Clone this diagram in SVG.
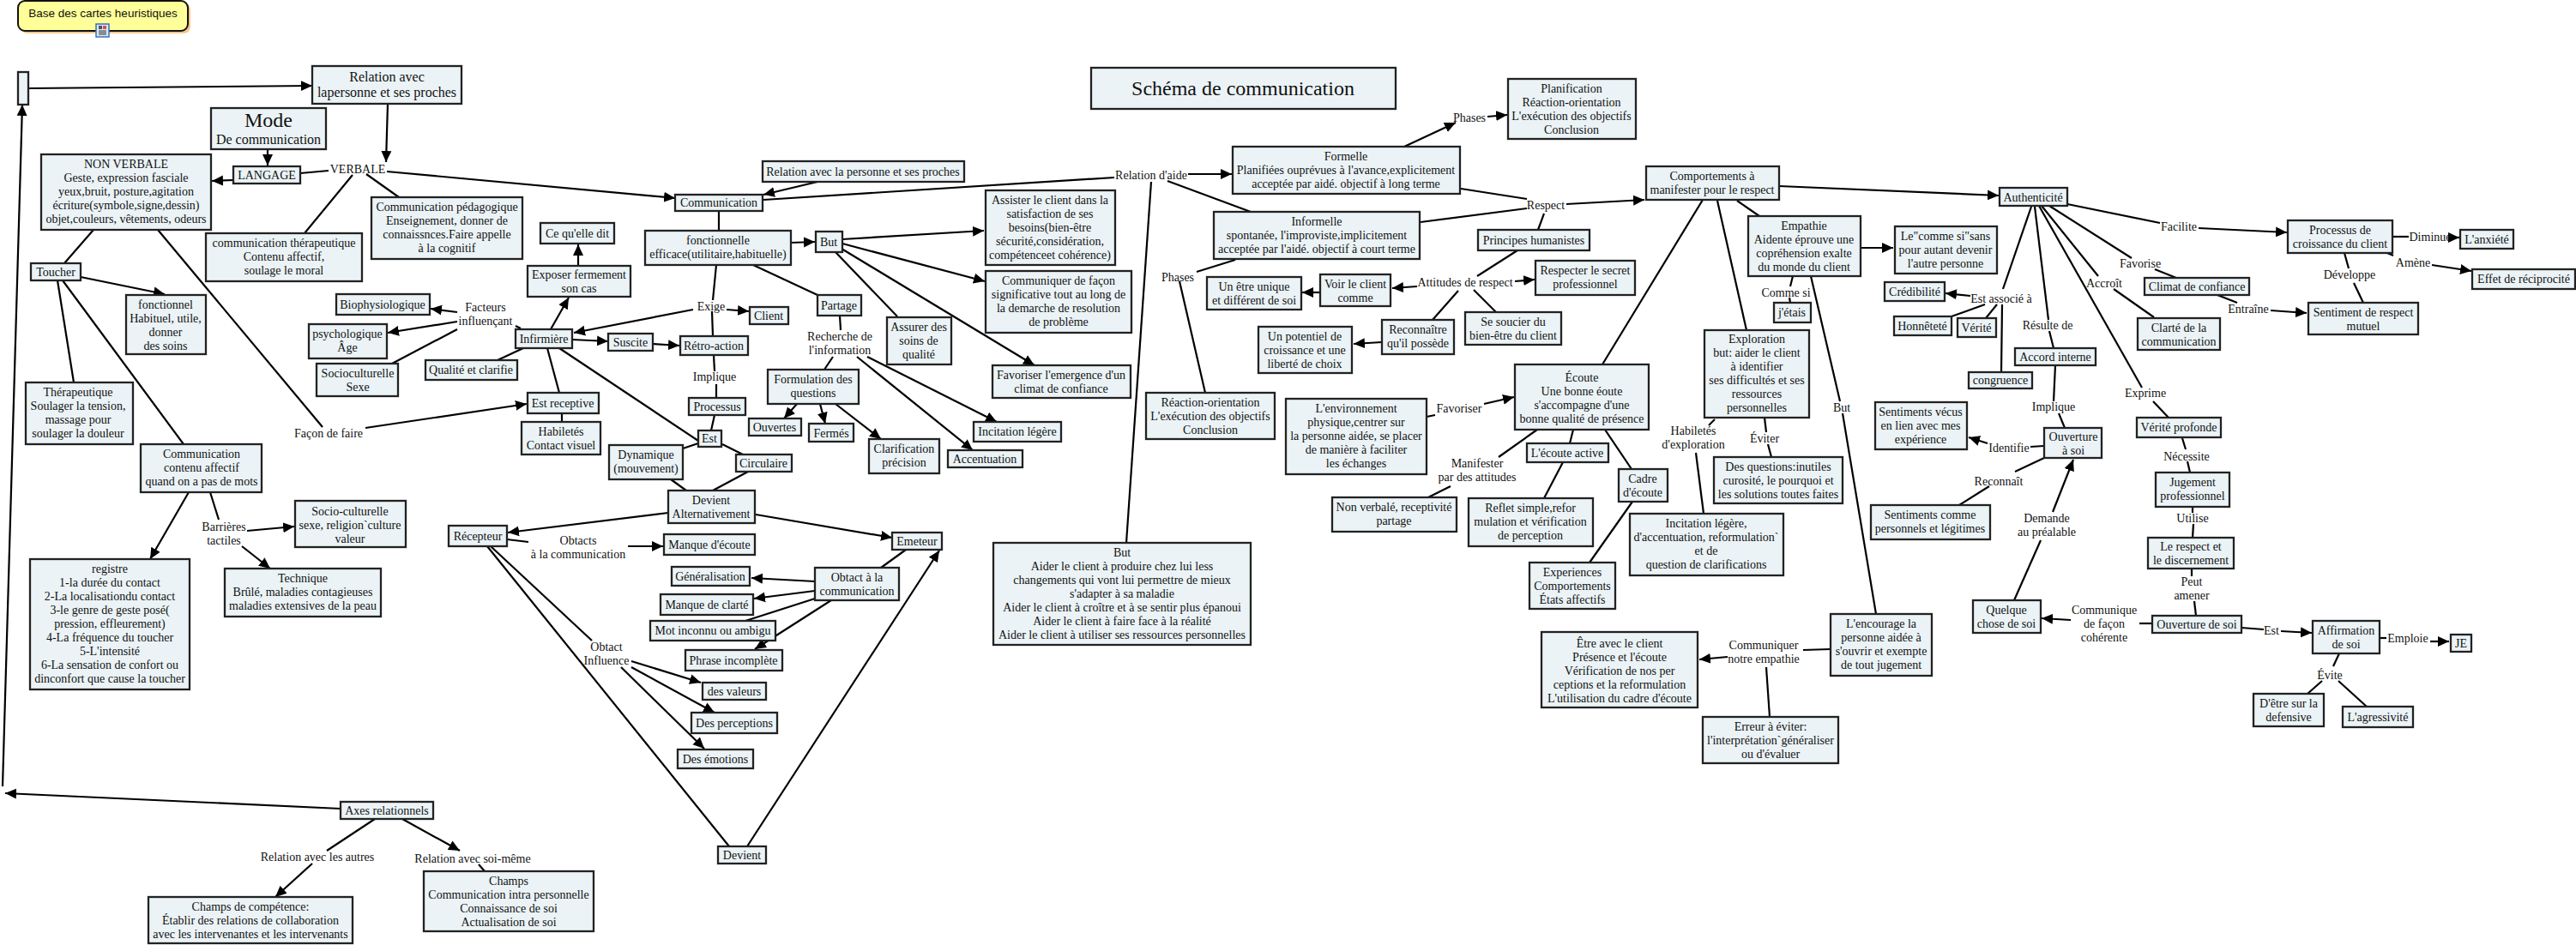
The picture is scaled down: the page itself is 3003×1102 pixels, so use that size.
<svg xmlns="http://www.w3.org/2000/svg" width="3003" height="1102" viewBox="0 0 3003 1102">
<style>
text{font-family:"Liberation Serif","Times New Roman",serif;font-size:14px;text-anchor:middle;fill:#111}
.n rect{fill:#ebf3f6;stroke:#222;stroke-width:2.3}
#connectors line{stroke:#000;stroke-width:2.2;fill:none}
.a{marker-end:url(#ah)}
.m{font-size:16px}
.h{font-size:24px}
</style>
<defs><marker id="ah" markerUnits="userSpaceOnUse" markerWidth="13" markerHeight="13" refX="13" refY="6.5" orient="auto"><path d="M0,0.5 L13,6.5 L0,12.5 z" fill="#000"/></marker></defs>
<rect width="3003" height="1102" fill="#fff"/>
<g id="connectors">
<line class="a" x1="33" y1="103" x2="364" y2="100"/>
<line class="a" x1="452" y1="121" x2="450" y2="189"/>
<line class="a" x1="312" y1="174" x2="312" y2="193"/>
<line class="a" x1="272" y1="210" x2="247" y2="211"/>
<line x1="350" y1="202" x2="383" y2="199"/>
<line class="a" x1="451" y1="200" x2="787" y2="231"/>
<line x1="411" y1="204" x2="355" y2="272"/>
<line x1="427" y1="203" x2="465" y2="230"/>
<line x1="109" y1="268" x2="75" y2="307"/>
<line x1="184" y1="268" x2="376" y2="498"/>
<line class="a" x1="426" y1="499" x2="614" y2="471"/>
<line class="a" x1="94" y1="323" x2="192" y2="343"/>
<line x1="67" y1="327" x2="86" y2="446"/>
<line x1="73" y1="327" x2="214" y2="518"/>
<line class="a" x1="220" y1="574" x2="175" y2="652"/>
<line x1="245" y1="574" x2="255" y2="606"/>
<line class="a" x1="288" y1="619" x2="343" y2="614"/>
<line class="a" x1="282" y1="637" x2="315" y2="663"/>
<line class="a" x1="397" y1="943" x2="6" y2="925"/>
<line x1="437" y1="955" x2="381" y2="992"/>
<line class="a" x1="364" y1="1007" x2="321" y2="1046"/>
<line class="a" x1="469" y1="955" x2="536" y2="992"/>
<line x1="558" y1="1008" x2="565" y2="1016"/>
<line class="a" x1="3" y1="917" x2="26" y2="122"/>
<line x1="655" y1="482" x2="655" y2="492"/>
<line class="a" x1="533" y1="364" x2="502" y2="360"/>
<line class="a" x1="533" y1="375" x2="452" y2="388"/>
<line x1="533" y1="384" x2="457" y2="424"/>
<line x1="607" y1="383" x2="601" y2="380"/>
<line x1="610" y1="406" x2="580" y2="420"/>
<line x1="638" y1="406" x2="652" y2="458"/>
<line class="a" x1="642" y1="384" x2="663" y2="347"/>
<line class="a" x1="674" y1="310" x2="674" y2="285"/>
<line class="a" x1="667" y1="396" x2="709" y2="398"/>
<line class="a" x1="761" y1="401" x2="792" y2="403"/>
<line class="a" x1="808" y1="361" x2="669" y2="388"/>
<line class="a" x1="847" y1="361" x2="873" y2="363"/>
<line x1="835" y1="309" x2="831" y2="350"/>
<line x1="830" y1="363" x2="831" y2="392"/>
<line x1="832" y1="414" x2="833" y2="433"/>
<line x1="835" y1="448" x2="835" y2="464"/>
<line x1="833" y1="484" x2="829" y2="502"/>
<line x1="814" y1="517" x2="796" y2="523"/>
<line x1="842" y1="518" x2="866" y2="530"/>
<line x1="652" y1="406" x2="814" y2="514"/>
<line x1="782" y1="559" x2="800" y2="572"/>
<line x1="872" y1="550" x2="831" y2="572"/>
<line x1="838" y1="246" x2="838" y2="269"/>
<line class="a" x1="953" y1="212" x2="890" y2="227"/>
<line x1="890" y1="233" x2="1299" y2="207"/>
<line class="a" x1="922" y1="283" x2="950" y2="282"/>
<line class="a" x1="982" y1="279" x2="1147" y2="269"/>
<line class="a" x1="982" y1="284" x2="1148" y2="328"/>
<line x1="974" y1="294" x2="1046" y2="369"/>
<line class="a" x1="981" y1="290" x2="1206" y2="426"/>
<line x1="878" y1="309" x2="953" y2="344"/>
<line x1="979" y1="368" x2="980" y2="385"/>
<line x1="971" y1="416" x2="961" y2="431"/>
<line class="a" x1="999" y1="416" x2="1134" y2="525"/>
<line class="a" x1="1011" y1="416" x2="1162" y2="492"/>
<line class="a" x1="929" y1="471" x2="914" y2="488"/>
<line class="a" x1="956" y1="471" x2="962" y2="494"/>
<line class="a" x1="974" y1="471" x2="1027" y2="512"/>
<line x1="1342" y1="212" x2="1313" y2="633"/>
<line class="a" x1="1385" y1="203" x2="1436" y2="203"/>
<line x1="1361" y1="211" x2="1458" y2="247"/>
<line x1="1440" y1="303" x2="1395" y2="317"/>
<line x1="1375" y1="328" x2="1405" y2="458"/>
<line class="a" x1="1637" y1="171" x2="1697" y2="143"/>
<line class="a" x1="1734" y1="136" x2="1757" y2="134"/>
<line x1="1703" y1="220" x2="1780" y2="232"/>
<line x1="1656" y1="259" x2="1780" y2="243"/>
<line class="a" x1="1826" y1="238" x2="1917" y2="233"/>
<line x1="1800" y1="249" x2="1793" y2="268"/>
<line x1="1769" y1="292" x2="1722" y2="322"/>
<line class="a" x1="1652" y1="334" x2="1623" y2="336"/>
<line class="a" x1="1539" y1="341" x2="1518" y2="341"/>
<line class="a" x1="1766" y1="328" x2="1789" y2="326"/>
<line x1="1718" y1="338" x2="1744" y2="364"/>
<line x1="1700" y1="339" x2="1670" y2="373"/>
<line class="a" x1="1611" y1="399" x2="1578" y2="401"/>
<line x1="1985" y1="233" x2="1868" y2="425"/>
<line x1="2025" y1="234" x2="2051" y2="252"/>
<line x1="2002" y1="234" x2="2036" y2="385"/>
<line class="a" x1="2074" y1="217" x2="2330" y2="228"/>
<line class="a" x1="2169" y1="289" x2="2207" y2="289"/>
<line x1="2090" y1="322" x2="2087" y2="334"/>
<line x1="2086" y1="347" x2="2087" y2="353"/>
<line x1="2111" y1="322" x2="2145" y2="468"/>
<line x1="2148" y1="482" x2="2187" y2="716"/>
<line x1="2057" y1="487" x2="2059" y2="504"/>
<line x1="2061" y1="518" x2="2065" y2="533"/>
<line x1="1999" y1="489" x2="1992" y2="496"/>
<line x1="1977" y1="528" x2="1986" y2="599"/>
<line x1="1663" y1="486" x2="1673" y2="484"/>
<line class="a" x1="1730" y1="471" x2="1765" y2="463"/>
<line x1="1792" y1="501" x2="1747" y2="533"/>
<line x1="1691" y1="567" x2="1665" y2="580"/>
<line x1="1834" y1="501" x2="1830" y2="517"/>
<line x1="1822" y1="539" x2="1800" y2="581"/>
<line x1="1871" y1="501" x2="1902" y2="547"/>
<line x1="1903" y1="585" x2="1853" y2="656"/>
<line x1="2134" y1="757" x2="2102" y2="758"/>
<line class="a" x1="2014" y1="766" x2="1981" y2="769"/>
<line x1="2059" y1="778" x2="2063" y2="836"/>
<line x1="2368" y1="241" x2="2335" y2="337"/>
<line class="a" x1="2297" y1="345" x2="2268" y2="342"/>
<line x1="2314" y1="355" x2="2275" y2="369"/>
<line x1="2328" y1="355" x2="2315" y2="371"/>
<line x1="2334" y1="355" x2="2333" y2="434"/>
<line x1="2372" y1="241" x2="2388" y2="373"/>
<line x1="2389" y1="386" x2="2394" y2="406"/>
<line x1="2396" y1="426" x2="2394" y2="468"/>
<line x1="2400" y1="482" x2="2407" y2="499"/>
<line x1="2383" y1="520" x2="2367" y2="521"/>
<line class="a" x1="2317" y1="517" x2="2295" y2="510"/>
<line x1="2383" y1="534" x2="2349" y2="550"/>
<line x1="2319" y1="567" x2="2284" y2="589"/>
<line x1="2348" y1="700" x2="2379" y2="630"/>
<line class="a" x1="2393" y1="597" x2="2417" y2="536"/>
<line class="a" x1="2414" y1="723" x2="2380" y2="721"/>
<line x1="2509" y1="727" x2="2494" y2="727"/>
<line x1="2613" y1="732" x2="2639" y2="734"/>
<line class="a" x1="2659" y1="736" x2="2695" y2="738"/>
<line x1="2774" y1="744" x2="2782" y2="744"/>
<line class="a" x1="2833" y1="748" x2="2855" y2="748"/>
<line x1="2727" y1="762" x2="2720" y2="777"/>
<line x1="2707" y1="794" x2="2690" y2="809"/>
<line x1="2726" y1="794" x2="2759" y2="824"/>
<line x1="2555" y1="663" x2="2555" y2="672"/>
<line x1="2558" y1="701" x2="2560" y2="718"/>
<line x1="2556" y1="591" x2="2556" y2="598"/>
<line x1="2557" y1="611" x2="2556" y2="627"/>
<line x1="2544" y1="511" x2="2548" y2="524"/>
<line x1="2550" y1="538" x2="2553" y2="551"/>
<line x1="2510" y1="468" x2="2528" y2="487"/>
<line x1="2377" y1="240" x2="2497" y2="452"/>
<line x1="2380" y1="240" x2="2446" y2="322"/>
<line x1="2464" y1="337" x2="2511" y2="370"/>
<line x1="2389" y1="240" x2="2485" y2="301"/>
<line x1="2512" y1="314" x2="2537" y2="324"/>
<line x1="2585" y1="344" x2="2608" y2="353"/>
<line class="a" x1="2647" y1="362" x2="2689" y2="365"/>
<line x1="2410" y1="238" x2="2518" y2="260"/>
<line class="a" x1="2563" y1="266" x2="2666" y2="271"/>
<line x1="2789" y1="276" x2="2808" y2="276"/>
<line class="a" x1="2855" y1="277" x2="2867" y2="277"/>
<line x1="2783" y1="295" x2="2790" y2="298"/>
<line class="a" x1="2835" y1="309" x2="2881" y2="316"/>
<line x1="2733" y1="295" x2="2738" y2="313"/>
<line x1="2744" y1="330" x2="2755" y2="353"/>
<line class="a" x1="779" y1="598" x2="592" y2="621"/>
<line class="a" x1="881" y1="600" x2="1040" y2="627"/>
<line x1="591" y1="629" x2="616" y2="632"/>
<line class="a" x1="732" y1="637" x2="773" y2="637"/>
<line x1="572" y1="637" x2="690" y2="747"/>
<line x1="568" y1="637" x2="850" y2="987"/>
<line class="a" x1="871" y1="987" x2="1095" y2="642"/>
<line x1="1056" y1="641" x2="1027" y2="662"/>
<line class="a" x1="950" y1="678" x2="876" y2="674"/>
<line class="a" x1="950" y1="689" x2="879" y2="698"/>
<line x1="950" y1="698" x2="869" y2="724"/>
<line class="a" x1="969" y1="700" x2="880" y2="757"/>
<line class="a" x1="736" y1="771" x2="817" y2="796"/>
<line class="a" x1="736" y1="778" x2="833" y2="831"/>
<line class="a" x1="724" y1="778" x2="821" y2="873"/>
</g>
<g id="base"><rect x="24" y="4" width="198" height="35" rx="8" fill="#f6c78c"/><rect x="21" y="1" width="198" height="35" rx="8" fill="#ffff99" stroke="#111" stroke-width="2"/><text x="120" y="20" style="font-family:'Liberation Sans',Arial,sans-serif;font-size:13.5px">Base des cartes heuristiques</text>
<rect x="112" y="28" width="15" height="15" fill="#dbe8f8" stroke="#3d6fb5" stroke-width="1.5"/><rect x="115" y="30" width="4" height="4" fill="#555"/><rect x="120" y="30" width="4" height="4" fill="#c55"/><path d="M115,36H124M115,38H124M115,40H124" stroke="#333" stroke-width="1"/></g>
<g id="n-start" class="n"><rect x="21" y="84" width="12" height="38"/></g>
<g id="n-relation" class="n"><rect x="364" y="77" width="174" height="44"/><text class="m" y="94.5"><tspan x="451">Relation avec</tspan><tspan x="451" dy="18">lapersonne et ses proches</tspan></text></g>
<g id="n-mode" class="n"><rect x="246" y="126" width="134" height="48"/><text class="h" x="313" y="148">Mode</text><text class="m" x="313" y="168">De communication</text></g>
<g id="n-langage" class="n"><rect x="272" y="194" width="78" height="20"/><text x="311" y="209">LANGAGE</text></g>
<g id="n-nonverbale" class="n"><rect x="48" y="180" width="198" height="88"/><text y="196"><tspan x="147">NON VERBALE</tspan><tspan x="147" dy="16">Geste, expression fasciale</tspan><tspan x="147" dy="16">yeux,bruit, posture,agitation</tspan><tspan x="147" dy="16">écriture(symbole,signe,dessin)</tspan><tspan x="147" dy="16">objet,couleurs, vêtements, odeurs</tspan></text></g>
<g id="n-compeda" class="n"><rect x="433" y="230" width="176" height="72"/><text y="246"><tspan x="521">Communication pédagogique</tspan><tspan x="521" dy="16">Enseignement, donner de</tspan><tspan x="521" dy="16">connaissnces.Faire appelle</tspan><tspan x="521" dy="16">à la cognitif</tspan></text></g>
<g id="n-comthera" class="n"><rect x="240" y="272" width="182" height="56"/><text y="288"><tspan x="331">communication thérapeutique</tspan><tspan x="331" dy="16">Contenu affectif,</tspan><tspan x="331" dy="16">soulage le moral</tspan></text></g>
<g id="n-cequelle" class="n"><rect x="630" y="260" width="86" height="24"/><text x="673" y="277">Ce qu'elle dit</text></g>
<g id="n-exposer" class="n"><rect x="615" y="310" width="120" height="36"/><text y="325"><tspan x="675">Exposer fermement</tspan><tspan x="675" dy="16">son cas</tspan></text></g>
<g id="n-biophysio" class="n"><rect x="392" y="343" width="109" height="24"/><text x="446" y="360">Biophysiologique</text></g>
<g id="n-toucher" class="n"><rect x="36" y="307" width="58" height="20"/><text x="65" y="322">Toucher</text></g>
<g id="n-fonctionnel" class="n"><rect x="147" y="344" width="93" height="69"/><text y="360"><tspan x="193">fonctionnel</tspan><tspan x="193" dy="16">Habituel, utile,</tspan><tspan x="193" dy="16">donner</tspan><tspan x="193" dy="16">des soins</tspan></text></g>
<g id="n-psycho" class="n"><rect x="360" y="378" width="91" height="40"/><text y="394"><tspan x="405">psychologique</tspan><tspan x="405" dy="16">Âge</tspan></text></g>
<g id="n-socioc" class="n"><rect x="369" y="424" width="95" height="38"/><text y="440"><tspan x="417">Socioculturelle</tspan><tspan x="417" dy="16">Sexe</tspan></text></g>
<g id="n-qualite" class="n"><rect x="496" y="420" width="107" height="23"/><text x="549" y="436">Qualité et clarifie</text></g>
<g id="n-infirmiere" class="n"><rect x="601" y="384" width="66" height="22"/><text x="634" y="400">Infirmière</text></g>
<g id="n-suscite" class="n"><rect x="709" y="389" width="52" height="20"/><text x="735" y="404">Suscite</text></g>
<g id="n-receptive" class="n"><rect x="615" y="458" width="83" height="24"/><text x="656" y="475">Est receptive</text></g>
<g id="n-habiletes" class="n"><rect x="608" y="492" width="92" height="38"/><text y="508"><tspan x="654">Habiletés</tspan><tspan x="654" dy="16">Contact visuel</tspan></text></g>
<g id="n-therapeutique" class="n"><rect x="30" y="446" width="125" height="72"/><text y="462"><tspan x="91">Thérapeutique</tspan><tspan x="91" dy="16">Soulager la tension,</tspan><tspan x="91" dy="16">massage pour</tspan><tspan x="91" dy="16">soulager la douleur</tspan></text></g>
<g id="n-comcontenu" class="n"><rect x="164" y="518" width="141" height="56"/><text y="534"><tspan x="235">Communication</tspan><tspan x="235" dy="16">contenu affectif</tspan><tspan x="235" dy="16">quand on a pas de mots</tspan></text></g>
<g id="n-socio" class="n"><rect x="344" y="584" width="129" height="54"/><text y="601"><tspan x="408">Socio-culturelle</tspan><tspan x="408" dy="16">sexe, religion`culture</tspan><tspan x="408" dy="16">valeur</tspan></text></g>
<g id="n-technique" class="n"><rect x="262" y="663" width="182" height="56"/><text y="679"><tspan x="353">Technique</tspan><tspan x="353" dy="16">Brûlé, maladies contagieuses</tspan><tspan x="353" dy="16">maladies extensives de la peau</tspan></text></g>
<g id="n-registre" class="n"><rect x="35" y="652" width="186" height="152"/><text y="668"><tspan x="128">registre</tspan><tspan x="128" dy="16">1-la durée du contact</tspan><tspan x="128" dy="16">2-La localisationdu contact</tspan><tspan x="128" dy="16">3-le genre de geste posé(</tspan><tspan x="128" dy="16">pression, effleurement)</tspan><tspan x="128" dy="16">4-La fréquence du toucher</tspan><tspan x="128" dy="16">5-L'intensité</tspan><tspan x="128" dy="16">6-La sensation de confort ou</tspan><tspan x="128" dy="16">dinconfort que cause la toucher</tspan></text></g>
<g id="n-recepteur" class="n"><rect x="523" y="613" width="68" height="24"/><text x="557" y="630">Récepteur</text></g>
<g id="n-axes" class="n"><rect x="397" y="935" width="108" height="20"/><text x="451" y="950">Axes relationnels</text></g>
<g id="n-champscomp" class="n"><rect x="173" y="1046" width="238" height="54"/><text y="1062"><tspan x="292">Champs de compétence:</tspan><tspan x="292" dy="16">Établir des relations de collaboration</tspan><tspan x="292" dy="16">avec les intervenantes et les intervenants</tspan></text></g>
<g id="n-champs" class="n"><rect x="494" y="1016" width="198" height="70"/><text y="1032"><tspan x="593">Champs</tspan><tspan x="593" dy="16">Communication intra personnelle</tspan><tspan x="593" dy="16">Connaissance de soi</tspan><tspan x="593" dy="16">Actualisation de soi</tspan></text></g>
<g id="n-relpers" class="n"><rect x="889" y="188" width="235" height="24"/><text x="1006" y="205">Relation avec la personne et ses proches</text></g>
<g id="n-communication" class="n"><rect x="787" y="227" width="102" height="19"/><text x="838" y="241">Communication</text></g>
<g id="n-fonctionnelle" class="n"><rect x="752" y="269" width="170" height="40"/><text y="285"><tspan x="837">fonctionnelle</tspan><tspan x="837" dy="16">efficace(utilitaire,habituelle)</tspan></text></g>
<g id="n-but" class="n"><rect x="951" y="270" width="31" height="24"/><text x="966" y="287">But</text></g>
<g id="n-assister" class="n"><rect x="1149" y="222" width="151" height="87"/><text y="238"><tspan x="1224">Assister le client dans la</tspan><tspan x="1224" dy="16">satisfaction de ses</tspan><tspan x="1224" dy="16">besoins(bien-être</tspan><tspan x="1224" dy="16">sécurité,considération,</tspan><tspan x="1224" dy="16">compétenceet cohérence)</tspan></text></g>
<g id="n-communiquer" class="n"><rect x="1149" y="316" width="170" height="72"/><text y="332"><tspan x="1234">Communiquer de façon</tspan><tspan x="1234" dy="16">significative tout au long de</tspan><tspan x="1234" dy="16">la demarche de resolution</tspan><tspan x="1234" dy="16">de problème</tspan></text></g>
<g id="n-assurer" class="n"><rect x="1034" y="370" width="75" height="55"/><text y="386"><tspan x="1071">Assurer des</tspan><tspan x="1071" dy="16">soins de</tspan><tspan x="1071" dy="16">qualité</tspan></text></g>
<g id="n-favoriser" class="n"><rect x="1157" y="426" width="161" height="38"/><text y="442"><tspan x="1237">Favoriser l'emergence d'un</tspan><tspan x="1237" dy="16">climat de confiance</tspan></text></g>
<g id="n-partage" class="n"><rect x="953" y="344" width="51" height="24"/><text x="978" y="361">Partage</text></g>
<g id="n-client" class="n"><rect x="874" y="358" width="45" height="20"/><text x="896" y="373">Client</text></g>
<g id="n-retro" class="n"><rect x="793" y="392" width="79" height="22"/><text x="832" y="408">Rétro-action</text></g>
<g id="n-processus" class="n"><rect x="803" y="464" width="66" height="20"/><text x="836" y="479">Processus</text></g>
<g id="n-est" class="n"><rect x="814" y="502" width="27" height="19"/><text x="827" y="516">Est</text></g>
<g id="n-formulation" class="n"><rect x="895" y="431" width="106" height="40"/><text y="447"><tspan x="948">Formulation des</tspan><tspan x="948" dy="16">questions</tspan></text></g>
<g id="n-ouvertes" class="n"><rect x="873" y="488" width="61" height="20"/><text x="903" y="503">Ouvertes</text></g>
<g id="n-fermes" class="n"><rect x="943" y="494" width="52" height="21"/><text x="969" y="510">Fermés</text></g>
<g id="n-clarification" class="n"><rect x="1013" y="512" width="82" height="40"/><text y="528"><tspan x="1054">Clarification</tspan><tspan x="1054" dy="16">précision</tspan></text></g>
<g id="n-incitation" class="n"><rect x="1135" y="492" width="102" height="23"/><text x="1186" y="508">Incitation légère</text></g>
<g id="n-accent" class="n"><rect x="1105" y="525" width="87" height="20"/><text x="1148" y="540">Accentuation</text></g>
<g id="n-circulaire" class="n"><rect x="858" y="530" width="65" height="20"/><text x="890" y="545">Circulaire</text></g>
<g id="n-dynamique" class="n"><rect x="710" y="519" width="86" height="40"/><text y="535"><tspan x="753">Dynamique</tspan><tspan x="753" dy="16">(mouvement)</tspan></text></g>
<g id="n-reaction" class="n"><rect x="1336" y="458" width="150" height="54"/><text y="474"><tspan x="1411">Réaction-orientation</tspan><tspan x="1411" dy="16">L'exécution des objectifs</tspan><tspan x="1411" dy="16">Conclusion</tspan></text></g>
<g id="n-devient-alt" class="n"><rect x="779" y="572" width="101" height="38"/><text y="588"><tspan x="829">Devient</tspan><tspan x="829" dy="16">Alternativement</tspan></text></g>
<g id="n-emeteur" class="n"><rect x="1040" y="621" width="58" height="20"/><text x="1069" y="636">Emeteur</text></g>
<g id="n-manque" class="n"><rect x="774" y="623" width="106" height="24"/><text x="827" y="640">Manque d'écoute</text></g>
<g id="n-obtact" class="n"><rect x="950" y="662" width="98" height="38"/><text y="678"><tspan x="999">Obtact à la</tspan><tspan x="999" dy="16">communication</tspan></text></g>
<g id="n-general" class="n"><rect x="783" y="661" width="91" height="22"/><text x="828" y="677">Généralisation</text></g>
<g id="n-clarte" class="n"><rect x="770" y="693" width="108" height="24"/><text x="824" y="710">Manque de clarté</text></g>
<g id="n-mot" class="n"><rect x="758" y="724" width="146" height="23"/><text x="831" y="740">Mot inconnu ou ambigu</text></g>
<g id="n-phrase" class="n"><rect x="799" y="758" width="113" height="24"/><text x="855" y="775">Phrase incomplète</text></g>
<g id="n-valeurs" class="n"><rect x="819" y="796" width="74" height="20"/><text x="856" y="811">des valeurs</text></g>
<g id="n-percep" class="n"><rect x="806" y="831" width="100" height="24"/><text x="856" y="848">Des perceptions</text></g>
<g id="n-emotions" class="n"><rect x="790" y="874" width="88" height="22"/><text x="834" y="890">Des émotions</text></g>
<g id="n-devient" class="n"><rect x="837" y="987" width="56" height="20"/><text x="865" y="1002">Devient</text></g>
<g id="n-butbox" class="n"><rect x="1158" y="633" width="300" height="119"/><text y="649"><tspan x="1308">But</tspan><tspan x="1308" dy="16">Aider le client à produire chez lui less</tspan><tspan x="1308" dy="16">changements qui vont lui permettre de mieux</tspan><tspan x="1308" dy="16">s'adapter à sa maladie</tspan><tspan x="1308" dy="16">Aider le client à croître et à se sentir plus épanoui</tspan><tspan x="1308" dy="16">Aider le client à faire face à la réalité</tspan><tspan x="1308" dy="16">Aider le client à utiliser ses ressources personnelles</tspan></text></g>
<g id="n-schema" class="n"><rect x="1272" y="79" width="355" height="48"/><text class="h" x="1449" y="111">Schéma de communication</text></g>
<g id="n-planif" class="n"><rect x="1758" y="92" width="149" height="70"/><text y="108"><tspan x="1832">Planification</tspan><tspan x="1832" dy="16">Réaction-orientation</tspan><tspan x="1832" dy="16">L'exécution des objectifs</tspan><tspan x="1832" dy="16">Conclusion</tspan></text></g>
<g id="n-formelle" class="n"><rect x="1437" y="171" width="265" height="55"/><text y="187"><tspan x="1569">Formelle</tspan><tspan x="1569" dy="16">Planifiées ouprévues à l'avance,explicitement</tspan><tspan x="1569" dy="16">acceptée par aidé. objectif à long terme</tspan></text></g>
<g id="n-informelle" class="n"><rect x="1415" y="247" width="240" height="55"/><text y="263"><tspan x="1535">Informelle</tspan><tspan x="1535" dy="16">spontanée, l'improviste,implicitement</tspan><tspan x="1535" dy="16">acceptée par l'aidé. objectif à court terme</tspan></text></g>
<g id="n-comport" class="n"><rect x="1919" y="194" width="155" height="39"/><text y="210"><tspan x="1996">Comportements à</tspan><tspan x="1996" dy="16">manifester pour le respect</tspan></text></g>
<g id="n-principes" class="n"><rect x="1723" y="268" width="130" height="24"/><text x="1788" y="285">Principes humanistes</text></g>
<g id="n-secret" class="n"><rect x="1790" y="304" width="116" height="40"/><text y="320"><tspan x="1848">Respecter le secret</tspan><tspan x="1848" dy="16">professionnel</tspan></text></g>
<g id="n-voir" class="n"><rect x="1539" y="320" width="82" height="37"/><text y="336"><tspan x="1580">Voir le client</tspan><tspan x="1580" dy="16">comme</tspan></text></g>
<g id="n-unique" class="n"><rect x="1407" y="323" width="110" height="38"/><text y="339"><tspan x="1462">Un être unique</tspan><tspan x="1462" dy="16">et différent de soi</tspan></text></g>
<g id="n-soucier" class="n"><rect x="1708" y="364" width="112" height="38"/><text y="380"><tspan x="1764">Se soucier du</tspan><tspan x="1764" dy="16">bien-être du client</tspan></text></g>
<g id="n-reconnaitre" class="n"><rect x="1611" y="373" width="84" height="40"/><text y="389"><tspan x="1653">Reconnaître</tspan><tspan x="1653" dy="16">qu'il possède</tspan></text></g>
<g id="n-potentiel" class="n"><rect x="1467" y="381" width="109" height="54"/><text y="397"><tspan x="1521">Un potentiel de</tspan><tspan x="1521" dy="16">croissance et une</tspan><tspan x="1521" dy="16">liberté de choix</tspan></text></g>
<g id="n-environ" class="n"><rect x="1499" y="465" width="164" height="88"/><text y="481"><tspan x="1581">L'environnement</tspan><tspan x="1581" dy="16">physique,centrer sur</tspan><tspan x="1581" dy="16">la personne aidée, se placer</tspan><tspan x="1581" dy="16">de manière à faciliter</tspan><tspan x="1581" dy="16">les échanges</tspan></text></g>
<g id="n-ecoute" class="n"><rect x="1766" y="425" width="156" height="76"/><text y="445"><tspan x="1844">Écoute</tspan><tspan x="1844" dy="16">Une bonne éoute</tspan><tspan x="1844" dy="16">s'accompagne d'une</tspan><tspan x="1844" dy="16">bonne qualité de présence</tspan></text></g>
<g id="n-active" class="n"><rect x="1780" y="517" width="95" height="22"/><text x="1827" y="533">L'écoute active</text></g>
<g id="n-cadre" class="n"><rect x="1887" y="547" width="57" height="38"/><text y="563"><tspan x="1915">Cadre</tspan><tspan x="1915" dy="16">d'écoute</tspan></text></g>
<g id="n-nonverbal" class="n"><rect x="1553" y="580" width="145" height="40"/><text y="596"><tspan x="1625">Non verbalé, receptivité</tspan><tspan x="1625" dy="16">partage</tspan></text></g>
<g id="n-reflet" class="n"><rect x="1712" y="581" width="145" height="56"/><text y="597"><tspan x="1784">Reflet simple,refor</tspan><tspan x="1784" dy="16">mulation et vérification</tspan><tspan x="1784" dy="16">de perception</tspan></text></g>
<g id="n-experiences" class="n"><rect x="1783" y="656" width="100" height="54"/><text y="672"><tspan x="1833">Experiences</tspan><tspan x="1833" dy="16">Comportements</tspan><tspan x="1833" dy="16">États affectifs</tspan></text></g>
<g id="n-incit2" class="n"><rect x="1900" y="599" width="179" height="72"/><text y="615"><tspan x="1989">Incitation légère,</tspan><tspan x="1989" dy="16">d'accentuation, reformulation`</tspan><tspan x="1989" dy="16">et de</tspan><tspan x="1989" dy="16">question de clarifications</tspan></text></g>
<g id="n-etre" class="n"><rect x="1797" y="737" width="182" height="88"/><text y="755"><tspan x="1888">Être avec le client</tspan><tspan x="1888" dy="16">Présence et l'écoute</tspan><tspan x="1888" dy="16">Vérification de nos per</tspan><tspan x="1888" dy="16">ceptions et la reformulation</tspan><tspan x="1888" dy="16">L'utilisation du cadre  d'écoute</tspan></text></g>
<g id="n-erreur" class="n"><rect x="1985" y="836" width="158" height="54"/><text y="852"><tspan x="2064">Erreur à éviter:</tspan><tspan x="2064" dy="16">l'interprétation`généraliser</tspan><tspan x="2064" dy="16">ou d'évaluer</tspan></text></g>
<g id="n-encourage" class="n"><rect x="2134" y="716" width="118" height="72"/><text y="732"><tspan x="2193">L'encourage la</tspan><tspan x="2193" dy="16">personne aidée à</tspan><tspan x="2193" dy="16">s'ouvrir et exempte</tspan><tspan x="2193" dy="16">de tout jugement</tspan></text></g>
<g id="n-sentcomme" class="n"><rect x="2181" y="589" width="139" height="40"/><text y="605"><tspan x="2250">Sentiments comme</tspan><tspan x="2250" dy="16">personnels et légitimes</tspan></text></g>
<g id="n-quelque" class="n"><rect x="2300" y="700" width="79" height="38"/><text y="716"><tspan x="2339">Quelque</tspan><tspan x="2339" dy="16">chose de soi</tspan></text></g>
<g id="n-authent" class="n"><rect x="2331" y="219" width="79" height="21"/><text x="2370" y="235">Authenticité</text></g>
<g id="n-empathie" class="n"><rect x="2038" y="252" width="131" height="70"/><text y="268"><tspan x="2103">Empathie</tspan><tspan x="2103" dy="16">Aidente éprouve une</tspan><tspan x="2103" dy="16">copréhension exalte</tspan><tspan x="2103" dy="16">du monde du client</tspan></text></g>
<g id="n-commesi" class="n"><rect x="2209" y="264" width="119" height="55"/><text y="280"><tspan x="2268">Le"comme si"sans</tspan><tspan x="2268" dy="16">pour autant devenir</tspan><tspan x="2268" dy="16">l'autre personne</tspan></text></g>
<g id="n-jetais" class="n"><rect x="2068" y="353" width="43" height="23"/><text x="2089" y="369">j'étais</text></g>
<g id="n-credib" class="n"><rect x="2197" y="329" width="70" height="22"/><text x="2232" y="345">Crédibilité</text></g>
<g id="n-honnete" class="n"><rect x="2208" y="369" width="67" height="22"/><text x="2241" y="385">Honnêteté</text></g>
<g id="n-verite" class="n"><rect x="2282" y="371" width="45" height="22"/><text x="2304" y="387">Vérité</text></g>
<g id="n-congruence" class="n"><rect x="2295" y="434" width="74" height="19"/><text x="2332" y="448">congruence</text></g>
<g id="n-accord" class="n"><rect x="2349" y="406" width="94" height="20"/><text x="2396" y="421">Accord interne</text></g>
<g id="n-ouvsoi" class="n"><rect x="2383" y="499" width="67" height="35"/><text y="514"><tspan x="2417">Ouverture</tspan><tspan x="2417" dy="16">à soi</tspan></text></g>
<g id="n-sentvecus" class="n"><rect x="2186" y="469" width="107" height="55"/><text y="485"><tspan x="2239">Sentiments vécus</tspan><tspan x="2239" dy="16">en lien avec mes</tspan><tspan x="2239" dy="16">expérience</tspan></text></g>
<g id="n-explo" class="n"><rect x="1987" y="385" width="122" height="102"/><text y="400"><tspan x="2048">Exploration</tspan><tspan x="2048" dy="16">but: aider le client</tspan><tspan x="2048" dy="16">à identifier</tspan><tspan x="2048" dy="16">ses difficultés et ses</tspan><tspan x="2048" dy="16">ressources</tspan><tspan x="2048" dy="16">personnelles</tspan></text></g>
<g id="n-questions" class="n"><rect x="1998" y="533" width="150" height="54"/><text y="549"><tspan x="2073">Des questions:inutiles</tspan><tspan x="2073" dy="16">curosité, le pourquoi et</tspan><tspan x="2073" dy="16">les solutions toutes faites</tspan></text></g>
<g id="n-climat" class="n"><rect x="2500" y="324" width="122" height="20"/><text x="2561" y="339">Climat de confiance</text></g>
<g id="n-clarte2" class="n"><rect x="2492" y="371" width="96" height="37"/><text y="387"><tspan x="2540">Clarté de la</tspan><tspan x="2540" dy="16">communication</tspan></text></g>
<g id="n-veritep" class="n"><rect x="2491" y="487" width="98" height="23"/><text x="2540" y="503">Vérité profonde</text></g>
<g id="n-processus2" class="n"><rect x="2667" y="257" width="122" height="38"/><text y="273"><tspan x="2728">Processus de</tspan><tspan x="2728" dy="16">croissance du client</tspan></text></g>
<g id="n-anxiete" class="n"><rect x="2868" y="268" width="62" height="22"/><text x="2899" y="284">L'anxiété</text></g>
<g id="n-effet" class="n"><rect x="2882" y="314" width="120" height="23"/><text x="2942" y="330">Effet de réciprocité</text></g>
<g id="n-sentiment" class="n"><rect x="2691" y="353" width="128" height="37"/><text y="369"><tspan x="2755">Sentiment de respect</tspan><tspan x="2755" dy="16">mutuel</tspan></text></g>
<g id="n-jugement" class="n"><rect x="2513" y="551" width="86" height="40"/><text y="567"><tspan x="2556">Jugement</tspan><tspan x="2556" dy="16">professionnel</tspan></text></g>
<g id="n-respectdisc" class="n"><rect x="2504" y="627" width="100" height="36"/><text y="642"><tspan x="2554">Le respect et</tspan><tspan x="2554" dy="16">le discernement</tspan></text></g>
<g id="n-ouvdesoi" class="n"><rect x="2509" y="718" width="104" height="20"/><text x="2561" y="733">Ouverture de soi</text></g>
<g id="n-affirm" class="n"><rect x="2696" y="724" width="78" height="38"/><text y="740"><tspan x="2735">Affirmation</tspan><tspan x="2735" dy="16">de soi</tspan></text></g>
<g id="n-je" class="n"><rect x="2857" y="740" width="24" height="20"/><text x="2869" y="755">JE</text></g>
<g id="n-defensive" class="n"><rect x="2627" y="809" width="82" height="38"/><text y="825"><tspan x="2668">D'être sur la</tspan><tspan x="2668" dy="16">defensive</tspan></text></g>
<g id="n-agress" class="n"><rect x="2731" y="824" width="82" height="24"/><text x="2772" y="841">L'agressivité</text></g>
<g id="labels">
<text x="417" y="202">VERBALE</text>
<text y="363"><tspan x="566">Facteurs</tspan><tspan x="566" dy="16">influençant</tspan></text>
<text x="383" y="510">Façon de faire</text>
<text y="619"><tspan x="261">Barrières</tspan><tspan x="261" dy="16">tactiles</tspan></text>
<text y="635"><tspan x="674">Obtacts</tspan><tspan x="674" dy="16">à la communication</tspan></text>
<text x="370" y="1004">Relation avec les autres</text>
<text x="551" y="1006">Relation avec soi-même</text>
<text y="759"><tspan x="707">Obtact</tspan><tspan x="707" dy="16">Influence</tspan></text>
<text x="829" y="362">Exige</text>
<text x="833" y="444">Implique</text>
<text y="397"><tspan x="979">Recherche de</tspan><tspan x="979" dy="16">l'information</tspan></text>
<text x="1342" y="209">Relation d'aide</text>
<text x="1373" y="328">Phases</text>
<text x="1713" y="142">Phases</text>
<text x="1802" y="244">Respect</text>
<text x="1708" y="334">Attitudes de respect</text>
<text x="1701" y="481">Favoriser</text>
<text y="545"><tspan x="1722">Manifester</tspan><tspan x="1722" dy="16">par des attitudes</tspan></text>
<text y="507"><tspan x="1974">Habiletés</tspan><tspan x="1974" dy="16">d'exploration</tspan></text>
<text y="757"><tspan x="2056">Communiquer</tspan><tspan x="2056" dy="16">notre empathie</tspan></text>
<text x="2082" y="346">Comme si</text>
<text x="2333" y="353">Est associé à</text>
<text x="2387" y="384">Résulte de</text>
<text x="2394" y="479">Implique</text>
<text x="2342" y="527">Identifie</text>
<text x="2330" y="566">Reconnaît</text>
<text x="2057" y="516">Éviter</text>
<text x="2147" y="480">But</text>
<text x="2540" y="269">Facilite</text>
<text x="2495" y="312">Favorise</text>
<text x="2453" y="335">Accroît</text>
<text x="2621" y="365">Entraîne</text>
<text x="2501" y="463">Exprime</text>
<text x="2549" y="537">Nécessite</text>
<text x="2833" y="281">Diminue</text>
<text x="2813" y="311">Amène</text>
<text x="2739" y="325">Développe</text>
<text x="2556" y="609">Utilise</text>
<text y="683"><tspan x="2555">Peut</tspan><tspan x="2555" dy="16">amener</tspan></text>
<text y="716"><tspan x="2453">Communique</tspan><tspan x="2453" dy="16">de façon</tspan><tspan x="2453" dy="16">cohérente</tspan></text>
<text y="609"><tspan x="2386">Demande</tspan><tspan x="2386" dy="16">au préalable</tspan></text>
<text x="2648" y="740">Est</text>
<text x="2807" y="749">Emploie</text>
<text x="2716" y="792">Évite</text>
</g>
</svg>
